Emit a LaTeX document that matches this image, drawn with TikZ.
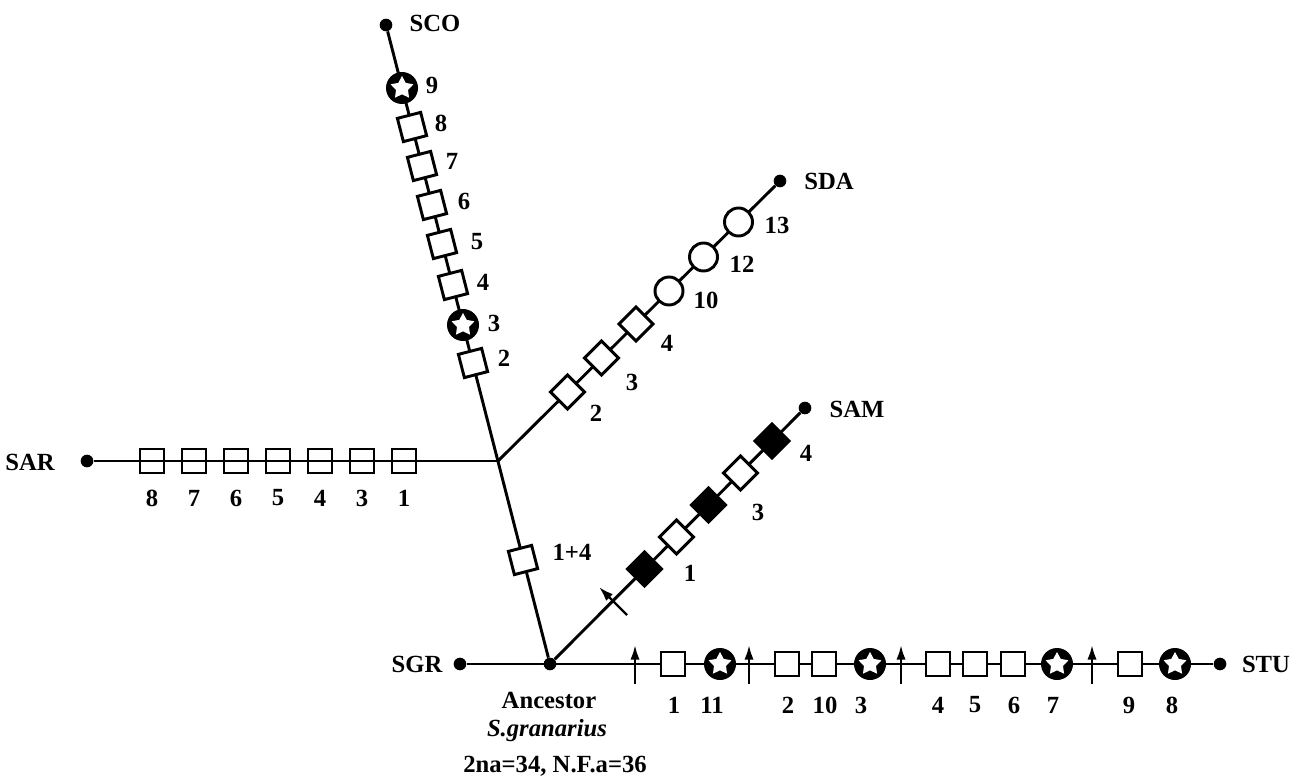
\documentclass[tikz,border=0pt]{standalone}
\usepackage{fontspec}
\setmainfont{Liberation Serif}
\usetikzlibrary{shapes.geometric,arrows.meta}

\tikzset{
    branch/.style={line width=2.2pt},
    enddot/.style={circle, fill=black, inner sep=0pt, minimum size=9.5pt},
    sqbox/.style={draw, fill=white, line width=2.2pt, minimum size=18pt, inner sep=0pt},
    sqopen/.style={sqbox, fill=none},
    sqfull/.style={sqbox, fill=black},
    ringbox/.style={circle, draw, fill=white, line width=2.2pt, minimum size=21pt, inner sep=0pt},
    starbox/.style={circle, fill=black, minimum size=24pt, inner sep=0pt,
        path picture={\node [star, star points=5, star point ratio=1.9, fill=white, minimum size=18pt, inner sep=0pt] at (path picture bounding box.center) {};}},
    mut/.style={line width=1.8pt, -{Latex[length=11pt,width=7pt]}},
    lbl/.style={font=\bfseries\fontsize{18.5}{20}\selectfont, inner sep=0pt}
}

\begin{document}
\begin{tikzpicture}[x=0.75pt,y=0.75pt,yscale=-1,xscale=1]
        \useasboundingbox (0,0) rectangle (1305,780);
        % End Points
        \node [enddot] (anc) at (550,664) {};
        \node [enddot] (sgr) at (460,664) {};
        \node [enddot] (stu) at (1220,664) {};
        \node [enddot] (sco) at (386,25) {};
        \node [enddot] (sar) at (87,461) {};
        \node [enddot] (sda) at (780,181) {};
        \node [enddot] (sam) at (805,408) {};
        \coordinate (fork) at (498,461);
        % Connection
        \draw [branch] (sgr) -- (stu);
        % Connection
        \draw [branch] (anc) -- (sco);
        % Connection
        \draw [branch] (fork) -- (sar);
        % Connection
        \draw [branch] (fork) -- (sda);
        % Connection
        \draw [branch] (anc) -- (sam);
        % Text Node
        \node [lbl] (tsco) at (435,23) {SCO};
        \node [lbl] (tsda) at (829,181) {SDA};
        \node [lbl] (tsam) at (857,409) {SAM};
        \node [lbl] (tsar) at (30,462) {SAR};
        \node [lbl] (tsgr) at (417,664) {SGR};
        \node [lbl] (tstu) at (1266,664) {STU};
        % Ancestor
        \node [lbl] (tanc) at (549,700) {Ancestor};
        \node [lbl] (tgra) at (547,731) {\itshape S.granarius};
        \node [lbl] (tnum) at (555,766) {2na=34, N.F.a=36};
        % SCO branch
        \node [starbox] (sco9) at (402,88) {};
        \node [sqbox, rotate=14.4] (sco8) at (412,127) {};
        \node [sqbox, rotate=14.4] (sco7) at (422,166) {};
        \node [sqbox, rotate=14.4] (sco6) at (432,205) {};
        \node [sqbox, rotate=14.4] (sco5) at (442,244) {};
        \node [sqbox, rotate=14.4] (sco4) at (453,285) {};
        \node [starbox] (sco3) at (463,325) {};
        \node [sqbox, rotate=14.4] (sco2) at (473,363) {};
        \node [sqbox, rotate=14.4] (sco1) at (523,560) {};
        \node [lbl] (lsco9) at (432,85) {9};
        \node [lbl] (lsco8) at (441,123) {8};
        \node [lbl] (lsco7) at (452,161) {7};
        \node [lbl] (lsco6) at (464,201) {6};
        \node [lbl] (lsco5) at (477,242) {5};
        \node [lbl] (lsco4) at (483,282) {4};
        \node [lbl] (lsco3) at (494,323) {3};
        \node [lbl] (lsco2) at (504,358) {2};
        \node [lbl] (lsco1) at (572,552) {1+4};
        % SAR branch
        \node [sqopen] (sar8) at (152,461) {};
        \node [sqopen] (sar7) at (194,461) {};
        \node [sqopen] (sar6) at (236,461) {};
        \node [sqopen] (sar5) at (278,461) {};
        \node [sqopen] (sar4) at (320,461) {};
        \node [sqopen] (sar3) at (362,461) {};
        \node [sqopen] (sar1) at (404,461) {};
        \node [lbl] (lsar8) at (152,498) {8};
        \node [lbl] (lsar7) at (194,498) {7};
        \node [lbl] (lsar6) at (236,498) {6};
        \node [lbl] (lsar5) at (278,498) {5};
        \node [lbl] (lsar4) at (320,498) {4};
        \node [lbl] (lsar3) at (362,498) {3};
        \node [lbl] (lsar1) at (404,498) {1};
        % SDA branch
        \node [sqbox, rotate=45] (sda2) at (567.5,392) {};
        \node [sqbox, rotate=45] (sda3) at (601.5,358) {};
        \node [sqbox, rotate=45] (sda4) at (636,324) {};
        \node [ringbox] (sda10) at (669,291) {};
        \node [ringbox] (sda12) at (703.5,257) {};
        \node [ringbox] (sda13) at (738.5,222) {};
        \node [lbl] (lsda2) at (596,413) {2};
        \node [lbl] (lsda3) at (632,382) {3};
        \node [lbl] (lsda4) at (667,343) {4};
        \node [lbl] (lsda10) at (706,300) {10};
        \node [lbl] (lsda12) at (742,264) {12};
        \node [lbl] (lsda13) at (777,225) {13};
        % SAM branch
        \path (627,615) coordinate (sam0a) (599,587) coordinate (sam0b);
        \draw [mut] (sam0a) -- (sam0b);
        \node [sqfull, rotate=45] (sam1) at (644.5,569) {};
        \node [sqbox, rotate=45] (sam2) at (676.5,537) {};
        \node [sqfull, rotate=45] (sam3) at (708.5,505) {};
        \node [sqbox, rotate=45] (sam4) at (740.5,473) {};
        \node [sqfull, rotate=45] (sam5) at (772,441) {};
        \node [lbl] (lsam1) at (690,573) {1};
        \node [lbl] (lsam3) at (758,512) {3};
        \node [lbl] (lsam4) at (806,453) {4};
        % STU branch
        \path (635,684) coordinate (stuaa) (635,645) coordinate (stuab);
        \path (749,684) coordinate (stuba) (749,645) coordinate (stubb);
        \path (901,684) coordinate (stuca) (901,645) coordinate (stucb);
        \path (1092,684) coordinate (studa) (1092,645) coordinate (studb);
        \draw [mut] (stuaa) -- (stuab);
        \draw [mut] (stuba) -- (stubb);
        \draw [mut] (stuca) -- (stucb);
        \draw [mut] (studa) -- (studb);
        \node [sqbox] (stu1) at (673,664) {};
        \node [starbox] (stu11) at (720,664) {};
        \node [sqbox] (stu2) at (787,664) {};
        \node [sqbox] (stu10) at (824,664) {};
        \node [starbox] (stu3) at (870,664) {};
        \node [sqbox] (stu4) at (938,664) {};
        \node [sqbox] (stu5) at (975,664) {};
        \node [sqbox] (stu6) at (1013,664) {};
        \node [starbox] (stu7) at (1057,664) {};
        \node [sqbox] (stu9) at (1130,664) {};
        \node [starbox] (stu8) at (1175,664) {};
        \node [lbl] (lstu1) at (674,705) {1};
        \node [lbl] (lstu11) at (712,705) {11};
        \node [lbl] (lstu2) at (788,705) {2};
        \node [lbl] (lstu10) at (825,705) {10};
        \node [lbl] (lstu3) at (861,705) {3};
        \node [lbl] (lstu4) at (938,705) {4};
        \node [lbl] (lstu5) at (975,705) {5};
        \node [lbl] (lstu6) at (1014,705) {6};
        \node [lbl] (lstu7) at (1053,705) {7};
        \node [lbl] (lstu9) at (1129,705) {9};
        \node [lbl] (lstu8) at (1172,705) {8};
    \end{tikzpicture}
\end{document}
